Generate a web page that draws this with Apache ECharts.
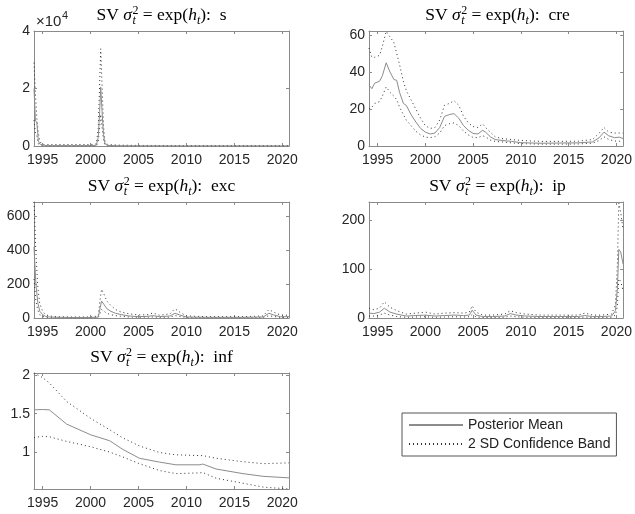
<!DOCTYPE html>
<html><head><meta charset="utf-8">
<script src="https://cdn.jsdelivr.net/npm/echarts@6/dist/echarts.min.js"></script>
<style>html,body{margin:0;padding:0;background:#fff}#c{width:635px;height:514px}</style>
</head><body><div id="c"></div>
<script>
// ---------- data ----------
const xTickYears = [1995, 2000, 2005, 2010, 2015, 2020];
const xStart = 1994.1, xEnd = 2020.7;
const legendNames = ['Posterior Mean', '2 SD Confidence Band'];
const panelNames = ['s', 'cre', 'exc', 'ip', 'inf'];

// s
const sDates = [1994.1, 1994.25, 1994.4, 1994.55, 1994.7, 1994.9, 1995.2, 1996, 1997, 1998, 1999, 2000, 2000.6, 2000.8, 2000.95, 2001.06, 2001.2, 2001.35, 2001.5, 2001.8, 2003, 2005, 2010, 2015, 2020.7];
const sMean  = [20000, 9000, 8000, 1800, 700, 250, 150, 150, 150, 150, 150, 150, 250, 3000, 12000, 20500, 12000, 4000, 800, 200, 100, 60, 40, 40, 40];
const sUpper = [29000, 18000, 9500, 4500, 1800, 700, 500, 500, 500, 500, 500, 500, 700, 6000, 22000, 33800, 21000, 7000, 1800, 500, 300, 200, 150, 150, 150];
const sLower = [9000, 4500, 3500, 700, 300, 80, 40, 30, 30, 30, 30, 30, 60, 1500, 6500, 11000, 6500, 2000, 300, 60, 20, 10, 5, 5, 5];
const sYTicks = [0, 20000, 40000];

// cre
const cDates = [1994.1, 1994.4, 1994.7, 1995.2, 1995.5, 1995.9, 1996.3, 1996.7, 1997.0, 1997.3, 1997.7, 1998.0, 1998.5, 1999.0, 1999.5, 2000.0, 2000.5, 2001.0, 2001.5, 2002.0, 2002.5, 2003.0, 2003.5, 2004.0, 2004.5, 2005.0, 2005.5, 2006.0, 2006.3, 2006.8, 2007.3, 2008, 2009, 2010, 2012, 2014, 2016, 2017.5, 2018.2, 2018.7, 2019.2, 2019.8, 2020.3, 2020.7];
const cMean  = [33, 31, 34, 35, 38, 45, 40, 36, 35.5, 29, 23, 22, 17, 13, 9.5, 7.5, 6.5, 7, 10, 16, 17, 17.5, 15, 11, 8.5, 6.8, 6.5, 8.5, 7.5, 5, 3.5, 3, 2.5, 1.8, 1.5, 1.6, 1.7, 2.2, 4.5, 7.5, 5.5, 4.5, 4.8, 4];
const cUpper = [53, 48, 48, 49, 54, 62, 59, 56, 50, 44, 35, 30, 25, 20, 15, 11, 9.5, 10, 14, 22, 23, 24.5, 22, 16, 12.5, 10.5, 10, 12, 10, 7.5, 5, 4, 3.5, 3, 2.5, 2.5, 2.6, 3.5, 7, 10, 7.5, 7, 7, 7];
const cLower = [20, 21, 23, 24, 27, 32, 29, 27, 25, 21, 17, 14, 11, 8, 6, 4.8, 4.5, 5, 7, 11, 12, 12.5, 11, 8, 6, 4.6, 4.5, 5.5, 5, 3.2, 2.5, 2.2, 1.7, 1.3, 1, 1, 1.1, 1.5, 3, 5, 3.5, 2.7, 2.6, 2.5];
const cYTicks = [0, 20, 40, 60];

// exc
const eDates = [1994.1, 1994.3, 1994.5, 1994.7, 1995.0, 1995.3, 1995.7, 1996.5, 1998, 2000, 2000.8, 2001.0, 2001.15, 2001.4, 2001.7, 2002.1, 2002.6, 2003.2, 2004, 2005, 2006.0, 2006.5, 2007.2, 2008.3, 2008.8, 2009.3, 2010, 2012, 2014, 2016, 2018.0, 2018.6, 2019.1, 2019.8, 2020.7];
const eMean  = [420, 200, 90, 40, 20, 10, 6, 4, 3, 3, 5, 60, 100, 80, 55, 40, 28, 20, 12, 8, 10, 14, 8, 12, 28, 18, 6, 4, 4, 4, 6, 28, 18, 8, 8];
const eUpper = [685, 380, 180, 85, 40, 20, 12, 8, 6, 6, 12, 110, 170, 140, 100, 75, 50, 35, 25, 18, 20, 30, 16, 25, 55, 35, 12, 8, 8, 8, 12, 50, 35, 18, 16];
const eLower = [230, 100, 45, 20, 9, 4, 3, 2, 1, 1, 2, 28, 50, 40, 28, 20, 14, 10, 6, 4, 5, 6, 4, 5, 14, 9, 3, 2, 2, 2, 3, 13, 9, 4, 4];
const eYTicks = [0, 200, 400, 600];

// ip
const iDates = [1994.1, 1994.6, 1995.2, 1995.7, 1996.3, 1997, 1998, 1999, 2000, 2001, 2002, 2003, 2004, 2004.6, 2004.9, 2005.3, 2006, 2007, 2008.3, 2008.9, 2009.5, 2010.5, 2012, 2014, 2016, 2016.7, 2017.5, 2018.5, 2019.5, 2019.9, 2020.1, 2020.25, 2020.45, 2020.7];
const iMean  = [10, 9, 12, 20, 12, 8, 4, 5, 6, 4, 5, 6, 5, 6, 16, 6, 3, 3, 4, 9, 6, 4, 3, 3, 3, 5, 3, 3, 4, 15, 60, 140, 135, 110];
const iUpper = [20, 17, 20, 33, 22, 15, 8, 10, 12, 8, 10, 11, 10, 12, 25, 12, 6, 6, 8, 15, 11, 8, 6, 6, 6, 10, 6, 6, 8, 28, 110, 235, 215, 180];
const iLower = [4, 4, 6, 10, 6, 3, 1.5, 2, 2.5, 1.5, 2, 2.5, 2, 2.5, 7, 2.5, 1, 1, 1.5, 4, 2.5, 1.5, 1, 1, 1, 2, 1, 1, 1.5, 6, 25, 80, 75, 55];
const iYTicks = [0, 100, 200];

// inf
const fDates = [1994.1, 1995.0, 1995.7, 1997.5, 2000.0, 2002.0, 2003.3, 2005.1, 2007.2, 2008.9, 2011.4, 2011.7, 2013.1, 2015.9, 2018.0, 2020.7];
const fMean  = [1.55, 1.555, 1.55, 1.365, 1.226, 1.148, 1.04, 0.92, 0.87, 0.835, 0.835, 0.845, 0.78, 0.72, 0.685, 0.665];
const fUpper = [2.03, 1.97, 1.90, 1.66, 1.44, 1.29, 1.19, 1.08, 0.995, 0.965, 0.955, 0.955, 0.92, 0.875, 0.85, 0.86];
const fLower = [1.19, 1.205, 1.2, 1.14, 1.07, 1.0, 0.94, 0.85, 0.76, 0.72, 0.73, 0.735, 0.66, 0.595, 0.545, 0.52];
const fYTicks = [1, 1.5, 2];

// ---------- layout ----------
const panels = [
  {name: panelNames[0], d: sDates, m: sMean, u: sUpper, l: sLower, yt: sYTicks, yMin: 0, yMax: 40000, fmt: v => String(v / 10000), grid: {left: 34, top: 31, width: 255, height: 115}},
  {name: panelNames[1], d: cDates, m: cMean, u: cUpper, l: cLower, yt: cYTicks, yMin: 0, yMax: 62.2, fmt: v => String(v), grid: {left: 369, top: 31, width: 257, height: 115}},
  {name: panelNames[2], d: eDates, m: eMean, u: eUpper, l: eLower, yt: eYTicks, yMin: 0, yMax: 685, fmt: v => String(v), grid: {left: 34, top: 202, width: 255, height: 116}},
  {name: panelNames[3], d: iDates, m: iMean, u: iUpper, l: iLower, yt: iYTicks, yMin: 0, yMax: 237, fmt: v => String(v), grid: {left: 369, top: 202, width: 257, height: 116}},
  {name: panelNames[4], d: fDates, m: fMean, u: fUpper, l: fLower, yt: fYTicks, yMin: 0.52, yMax: 2.03, fmt: v => String(v), grid: {left: 34, top: 373, width: 255, height: 116}}
];

const axisC = '#8a8a8a';
const labC = '#262626';
const sans = 'Liberation Sans';
const serif = 'Liberation Serif';
const meanC = '#8c8c8c';
const bandC = '#303030';

const zip = (a, b) => a.map((x, i) => [x, b[i]]);

const grids = [], xAxes = [], yAxes = [], series = [], graphics = [];

const ctx = document.createElement('canvas').getContext('2d');
function tw(text, font) { ctx.font = font; return ctx.measureText(text).width; }

function titleEls(cx, baseY, suffix) {
  const S = 17.5, s = 12;
  const fR = S + 'px "' + serif + '"', fI = 'italic ' + S + 'px "' + serif + '"';
  const fsR = s + 'px "' + serif + '"', fsI = 'italic ' + s + 'px "' + serif + '"';
  const parts = [
    {t: 'SV ', f: fR, size: S, dy: 0},
    {t: 'σ', f: fI, size: S, dy: 0},
    {stack: [{t: '2', f: fsR, size: s, dy: -7}, {t: 't', f: fsI, size: s, dy: 3.5}]},
    {t: ' = exp(', f: fR, size: S, dy: 0},
    {t: 'h', f: fI, size: S, dy: 0},
    {t: 't', f: fsI, size: s, dy: 3.5},
    {t: '):  ' + suffix, f: fR, size: S, dy: 0}
  ];
  let total = 0;
  parts.forEach(p => {
    if (p.stack) p.w = Math.max(...p.stack.map(q => tw(q.t, q.f))) + 0.5;
    else p.w = tw(p.t, p.f);
    total += p.w;
  });
  let x = cx - total / 2;
  const out = [];
  const add = (q, xx) => out.push({
    type: 'text', x: xx, y: baseY + q.dy - 0.32 * q.size, silent: true,
    style: {text: q.t, font: q.f, fill: '#000', align: 'left', verticalAlign: 'middle'}
  });
  parts.forEach(p => {
    if (p.stack) p.stack.forEach(q => add(q, x + 0.5));
    else add(p, x);
    x += p.w;
  });
  return out;
}

panels.forEach((p, i) => {
  grids.push(p.grid);
  const xBase = {
    gridIndex: i, type: 'value', min: xStart, max: xEnd,
    axisLine: {show: true, onZero: false, lineStyle: {color: axisC, width: 1}},
    axisTick: {show: true, inside: true, length: 3, customValues: xTickYears, lineStyle: {color: axisC}},
    splitLine: {show: false}
  };
  xAxes.push(Object.assign({}, xBase, {
    position: 'bottom',
    axisLabel: {show: true, customValues: xTickYears, margin: 7, color: labC, fontSize: 14, fontFamily: sans, formatter: v => String(Math.round(v))}
  }));
  xAxes.push(Object.assign({}, xBase, {position: 'top', axisLabel: {show: false}}));
  const yBase = {
    gridIndex: i, type: 'value', min: p.yMin, max: p.yMax,
    axisLine: {show: true, onZero: false, lineStyle: {color: axisC, width: 1}},
    axisTick: {show: true, inside: true, length: 3, customValues: p.yt, lineStyle: {color: axisC}},
    splitLine: {show: false}
  };
  yAxes.push(Object.assign({}, yBase, {
    position: 'left',
    axisLabel: {show: true, customValues: p.yt, margin: 4, color: labC, fontSize: 14, fontFamily: sans, formatter: p.fmt}
  }));
  yAxes.push(Object.assign({}, yBase, {position: 'right', axisLabel: {show: false}}));

  const common = {type: 'line', xAxisIndex: i * 2, yAxisIndex: i * 2, symbol: 'none', showSymbol: false, silent: true, animation: false};
  series.push(Object.assign({}, common, {name: legendNames[1], data: zip(p.d, p.u), lineStyle: {color: bandC, width: 1, type: [1, 3]}, itemStyle: {color: bandC}, z: 2}));
  series.push(Object.assign({}, common, {name: legendNames[1], data: zip(p.d, p.l), lineStyle: {color: bandC, width: 1, type: [1, 3]}, itemStyle: {color: bandC}, z: 2}));
  series.push(Object.assign({}, common, {name: legendNames[0], data: zip(p.d, p.m), lineStyle: {color: meanC, width: 1}, itemStyle: {color: meanC}, z: 3}));

  const cx = p.grid.left + p.grid.width / 2;
  titleEls(cx, p.grid.top - 9.5, p.name).forEach(e => graphics.push(e));
});

// ×10^4 multiplier label for the first panel
const multFont = '15px "' + sans + '"';
graphics.push({type: 'text', x: 36, y: 21.5, silent: true, style: {text: '×10', font: multFont, fill: labC, align: 'left', verticalAlign: 'middle'}});
graphics.push({type: 'text', x: 36 + tw('×10', multFont) + 0.5, y: 16, silent: true, style: {text: '4', font: '11px "' + sans + '"', fill: labC, align: 'left', verticalAlign: 'middle'}});

const chart = echarts.init(document.getElementById('c'), null, {renderer: 'canvas'});
chart.setOption({
  backgroundColor: '#fff',
  animation: false,
  grid: grids,
  xAxis: xAxes,
  yAxis: yAxes,
  series: series,
  legend: {
    data: [legendNames[0], legendNames[1]],
    orient: 'vertical', left: 402, top: 413,
    itemWidth: 54, itemHeight: 14, itemGap: 5,
    padding: [5, 6, 5, 6],
    borderColor: '#555', borderWidth: 1,
    selectedMode: false,
    itemStyle: {opacity: 0},
    textStyle: {fontFamily: sans, fontSize: 14, color: '#222'}
  },
  graphic: graphics
});
</script>
</body></html>
